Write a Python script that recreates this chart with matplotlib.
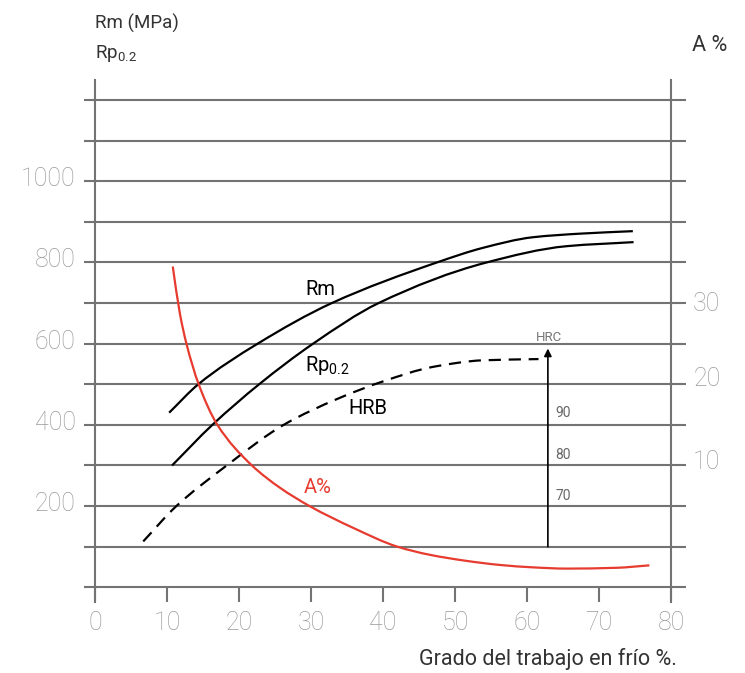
import matplotlib
matplotlib.use("Agg")
import numpy as np
import matplotlib.pyplot as plt
import matplotlib.transforms as mtransforms
from matplotlib.path import Path
from matplotlib.patches import PathPatch

plt.rcParams['font.family'] = ['Roboto', 'DejaVu Sans']
plt.rcParams['mathtext.fontset'] = 'custom'
plt.rcParams['mathtext.rm'] = 'Roboto'
plt.rcParams['mathtext.default'] = 'regular'

# Datos
x_rm = [10.3, 14.35, 22.6, 32.9, 47.5, 53.9, 60.8, 67.5, 74.7]
y_rm = [430, 500, 600, 700, 800, 836, 862, 871, 877]

x_rp = [10.7, 16.3, 22.8, 30.3, 39.4, 54.4, 65.5, 74.8]
y_rp = [300, 400, 500, 600, 700, 800, 840, 850]

x_hrb = [6.7, 11.3, 18.3, 26.2, 33.8, 40.0, 47.0, 53.9, 61.6]
y_hrb = [113, 200, 300, 400, 465, 507, 543, 559, 562]

x_a = [10.8, 11.8, 12.7, 14.4, 17.0, 21.8, 25.7, 29.8,
       35.9, 42.0, 46.5, 51.6, 56.25, 60.9, 65.5, 72.4, 77.0]
y_a = [790, 673, 600, 500, 400, 300, 245, 200,
       146, 100, 80, 65, 55, 49, 46, 48, 54]

x_ticks = [0, 10, 20, 30, 40, 50, 60, 70, 80]
y_lines = list(range(0, 1300, 100))
y_ticks = [200, 400, 600, 800, 1000]

# escala A % (derecha)
a_vals = ['10', '20', '30']
a_pos = [315, 518, 703]

# escala HRC
hrc_x = 62.9
hrc_base, hrc_top = 100, 588
hrc_vals = ['70', '80', '90']
hrc_pos = [224, 325, 428]

gris = '#737373'
gris_txt = '#9a9a9a'
rojo = '#e63b2e'


def curva(xs, ys):
    # trazo suave (cubica monotona tipo PCHIP, como Bezier) por los puntos leidos
    x = np.asarray(xs, float)
    y = np.asarray(ys, float)
    h = np.diff(x)
    d = np.diff(y) / h
    m = np.zeros_like(x)
    m[0], m[-1] = d[0], d[-1]
    for k in range(1, len(x) - 1):
        if d[k - 1] * d[k] <= 0:
            m[k] = 0
        else:
            w1 = 2 * h[k] + h[k - 1]
            w2 = h[k] + 2 * h[k - 1]
            m[k] = (w1 + w2) / (w1 / d[k - 1] + w2 / d[k])
    verts = [(x[0], y[0])]
    codes = [Path.MOVETO]
    for k in range(len(x) - 1):
        verts += [(x[k] + h[k] / 3, y[k] + m[k] * h[k] / 3),
                  (x[k + 1] - h[k] / 3, y[k + 1] - m[k + 1] * h[k] / 3),
                  (x[k + 1], y[k + 1])]
        codes += [Path.CURVE4] * 3
    return Path(verts, codes)


fig = plt.figure(figsize=(7.45, 6.73), dpi=100)
ax = fig.add_axes([95 / 745, 1 - 601.5 / 673, 576 / 745, (601.5 - 79.7) / 673])
ax.set_xlim(0, 80)
ax.set_ylim(-35, 1250)

# lineas horizontales
ax.hlines(y_lines, -1.5, 82.1, color=gris, lw=1.5, clip_on=False, zorder=1)

for s in ['top', 'bottom']:
    ax.spines[s].set_visible(False)
for s in ['left', 'right']:
    ax.spines[s].set_color(gris)
    ax.spines[s].set_linewidth(1.5)

ax.set_xticks(x_ticks)
ax.set_xticklabels([str(v) for v in x_ticks])
ax.tick_params(axis='x', direction='in', length=10, width=1.5, color=gris,
               labelsize=18, labelcolor=gris_txt, pad=7)
ax.set_yticks(y_ticks)
ax.set_yticklabels([str(v) for v in y_ticks])
ax.tick_params(axis='y', length=0, labelsize=18, labelcolor=gris_txt, pad=14)
for lab in ax.get_xticklabels() + ax.get_yticklabels():
    lab.set_fontweight('light')
up = mtransforms.ScaledTranslation(0, 3.3 / 72, fig.dpi_scale_trans)
for lab in ax.get_yticklabels():
    lab.set_transform(lab.get_transform() + up)

ax2 = ax.twinx()
ax2.set_ylim(ax.get_ylim())
ax2.set_yticks(a_pos)
ax2.set_yticklabels(a_vals)
ax2.tick_params(axis='y', length=0, labelsize=18, labelcolor=gris_txt, pad=16)
for lab in ax2.get_yticklabels():
    lab.set_fontweight('light')
for s in ax2.spines.values():
    s.set_visible(False)

# curvas
for xs, ys, col, ls in [(x_rm, y_rm, 'black', '-'),
                        (x_rp, y_rp, 'black', '-'),
                        (x_hrb, y_hrb, 'black', (0, (5.5, 3.5))),
                        (x_a, y_a, rojo, '-')]:
    ax.add_patch(PathPatch(curva(xs, ys), fill=False, edgecolor=col, lw=1.6,
                           linestyle=ls, capstyle='butt', zorder=3))

ax.annotate('', xy=(hrc_x, hrc_top), xytext=(hrc_x, hrc_base),
            arrowprops=dict(arrowstyle='-|>', color='black', lw=1.2,
                            mutation_scale=11, shrinkA=0, shrinkB=0), zorder=4)
ax.text(hrc_x + 0.2, 615, 'HRC', ha='center', va='center', fontsize=9.5,
        color='#777777')
for v, p in zip(hrc_vals, hrc_pos):
    ax.text(hrc_x + 1.0, p, v, ha='left', va='center', fontsize=10,
            color='#666666')

ax.text(29.2, 733, 'Rm', ha='left', va='center', fontsize=14.5, color='black')
ax.text(29.2, 547, r'Rp$_{0.2}$', ha='left', va='center', fontsize=14.5, color='black')
ax.text(35.2, 440, 'HRB', ha='left', va='center', fontsize=14.5, color='black')
ax.text(29.0, 245, 'A%', ha='left', va='center', fontsize=14.5, color=rojo)

# textos exteriores
fig.text(95 / 745, 1 - 23 / 673, 'Rm (MPa)', ha='left', va='center', fontsize=13.5,
         color='#333333')
fig.text(95 / 745, 1 - 53 / 673, r'Rp$_{0.2}$', ha='left', va='center', fontsize=13.5,
         color='#333333')
fig.text(692 / 745, 1 - 45.5 / 673, 'A %', ha='left', va='center', fontsize=15.5,
         color='#333333')
fig.text(677 / 745, 1 - 659 / 673, 'Grado del trabajo en frío %.', ha='right',
         va='center', fontsize=15.5, color='#333333')

fig.savefig('out.png', dpi=100)
